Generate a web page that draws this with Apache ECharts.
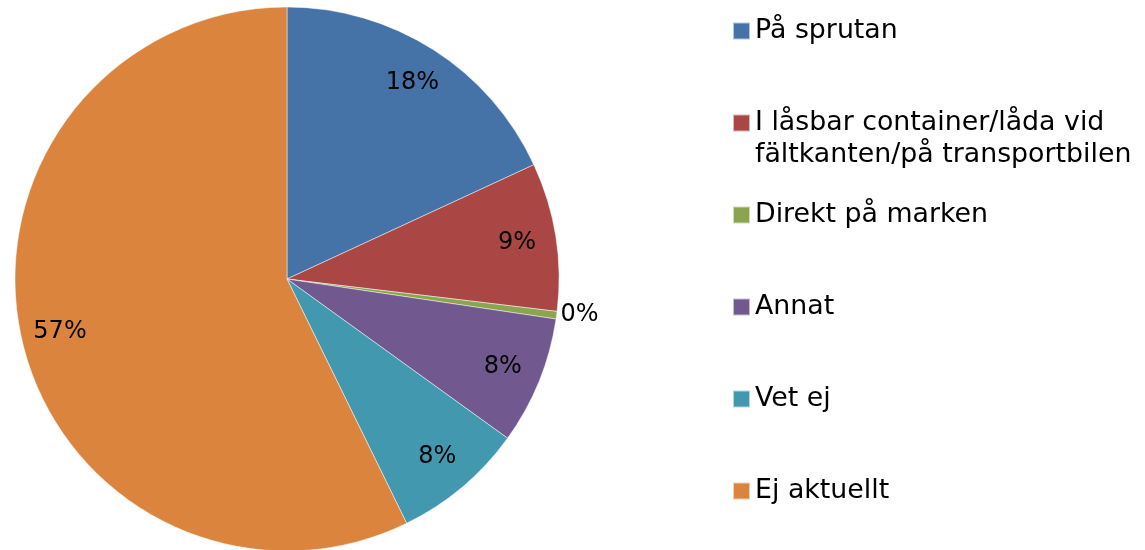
<!DOCTYPE html>
<html>
<head>
<meta charset="utf-8">
<script src="https://cdn.jsdelivr.net/npm/echarts@6/dist/echarts.min.js"></script>
<style>
  html, body { margin: 0; padding: 0; background: #fff; }
  #chart { width: 1145px; height: 550px; }
</style>
</head>
<body>
<div id="chart"></div>
<script>
// svarsalternativ och andelar
var categories = [
  'På sprutan',
  'I låsbar container/låda vid\nfältkanten/på transportbilen',
  'Direkt på marken',
  'Annat',
  'Vet ej',
  'Ej aktuellt'
]
var shares = [18.1, 8.8, 0.45, 7.6, 7.8, 57.25]
var colors = ['#4572A7', '#AA4643', '#89A54E', '#71588F', '#4198AF', '#DB843D']
// legendradernas överkant
var legendTops = [15, 75, 199, 291, 383, 475]

var font = 'DejaVu Sans'
var center = [287, 279]
var radius = 272

var chart = echarts.init(document.getElementById('chart'))

var pieData = categories.map(function (name, i) {
  return { name: name, value: shares[i], itemStyle: { color: colors[i] } }
})

// etiketter i en genomskinlig ring så att de hamnar nära kanten
var labelData = categories.map(function (name, i) {
  var item = { name: name, value: shares[i] }
  if (shares[i] < 1) {
    item.label = { position: 'outside' }
    item.labelLine = { show: false, length: 0, length2: 0 }
  }
  return item
})

var legends = categories.map(function (name, i) {
  var twoLines = name.indexOf('\n') > -1
  return {
    orient: 'vertical',
    left: 732,
    top: legendTops[i],
    padding: 0,
    itemWidth: 17,
    itemHeight: 17,
    itemGap: 0,
    selectedMode: false,
    icon: 'rect',
    data: [name],
    // tom rad först så att första textraden hamnar i höjd med rutan
    formatter: twoLines ? '\n{name}' : '{name}',
    textStyle: {
      fontFamily: font,
      fontSize: 26.8,
      color: '#000',
      lineHeight: 32
    }
  }
})

var options = {
  backgroundColor: '#fff',
  animation: false,
  legend: legends,
  series: [
    {
      type: 'pie',
      center: center,
      radius: radius,
      startAngle: 90,
      clockwise: true,
      avoidLabelOverlap: false,
      silent: true,
      label: { show: false },
      labelLine: { show: false },
      itemStyle: { borderColor: 'rgba(255,255,255,0.6)', borderWidth: 0.8 },
      data: pieData
    },
    {
      type: 'pie',
      center: center,
      radius: [188, radius],
      startAngle: 90,
      clockwise: true,
      avoidLabelOverlap: false,
      silent: true,
      legendHoverLink: false,
      itemStyle: { color: 'rgba(0,0,0,0)' },
      label: {
        show: true,
        position: 'inside',
        fontFamily: font,
        fontSize: 24,
        color: '#000',
        distanceToLabelLine: 4,
        formatter: function (p) {
          return Math.round(p.percent) + '%'
        }
      },
      labelLine: { show: false },
      data: labelData
    }
  ]
}

chart.setOption(options)
</script>
</body>
</html>
